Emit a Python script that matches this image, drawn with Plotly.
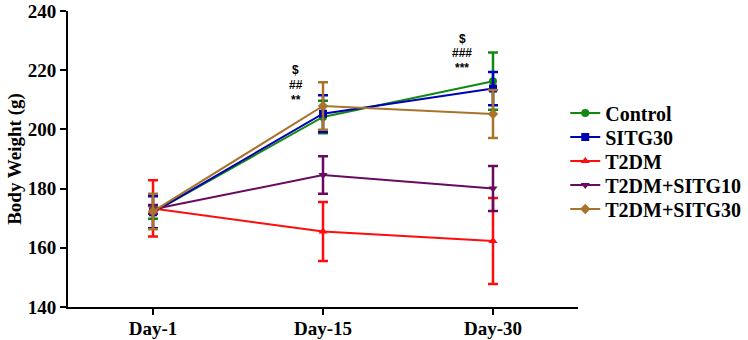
import plotly.graph_objects as go

days = ["Day-1", "Day-15", "Day-30"]
groups = ["Control", "SITG30", "T2DM", "T2DM+SITG10", "T2DM+SITG30"]
means = {
    "Control": [172.0, 204.2, 216.3],
    "SITG30": [172.0, 205.3, 213.8],
    "T2DM": [173.3, 165.5, 162.3],
    "T2DM+SITG10": [173.0, 184.6, 180.0],
    "T2DM+SITG30": [172.3, 207.9, 205.2],
}
errors = {
    "Control": [2.2, 5.5, 9.7],
    "SITG30": [5.4, 6.2, 5.6],
    "T2DM": [9.5, 10.0, 14.5],
    "T2DM+SITG10": [1.5, 6.3, 7.6],
    "T2DM+SITG30": [6.0, 8.0, 8.1],
}
colors = {
    "Control": "#128a12",
    "SITG30": "#0000b4",
    "T2DM": "#ff0d0d",
    "T2DM+SITG10": "#680a5e",
    "T2DM+SITG30": "#a8732a",
}
symbols = {
    "Control": "circle",
    "SITG30": "square",
    "T2DM": "triangle-up",
    "T2DM+SITG10": "triangle-down",
    "T2DM+SITG30": "diamond",
}
sig_labels = [("Day-15", ["$", "##", "**"], [220.0, 214.9, 209.8], -0.16),
              ("Day-30", ["$", "###", "***"], [230.7, 225.8, 220.6], -0.18)]

# legend row positions (paper y) - one legend box per group
legend_rows = [0.655, 0.574, 0.493, 0.412, 0.331]

fig = go.Figure()
for i, g in enumerate(groups):
    fig.add_trace(go.Scatter(
        x=days, y=means[g], name=g, mode="lines+markers",
        legend="legend" if i == 0 else f"legend{i + 1}",
        line=dict(color=colors[g], width=2),
        marker=dict(symbol=symbols[g], size=8, color=colors[g]),
        error_y=dict(type="data", array=errors[g], visible=True,
                     color=colors[g], thickness=2.5, width=5),
    ))

xi = {d: i for i, d in enumerate(days)}
for day, labels, ys, dx in sig_labels:
    for lab, yv in zip(labels, ys):
        fig.add_annotation(x=xi[day] + dx, y=yv, xref="x", yref="y", text=lab,
                           showarrow=False,
                           font=dict(family="Liberation Sans", size=12, color="black", weight="bold"))

axis_font = dict(family="Liberation Serif", size=19, color="black", weight="bold")
legend_font = dict(family="Liberation Serif", size=20, color="black", weight="bold")

legend_layout = {}
for i, yv in enumerate(legend_rows):
    key = "legend" if i == 0 else f"legend{i + 1}"
    legend_layout[key] = dict(x=0.975, xanchor="left", y=yv, yanchor="middle",
                              font=legend_font, bgcolor="rgba(0,0,0,0)",
                              itemwidth=30, borderwidth=0)

fig.update_layout(
    width=748, height=340,
    margin=dict(l=68, r=170, t=11, b=33, autoexpand=False),
    paper_bgcolor="white", plot_bgcolor="white",
    showlegend=True,
    xaxis=dict(type="category", categoryorder="array", categoryarray=days,
               range=[-0.5, 2.5], showline=True, linecolor="black", linewidth=2,
               ticks="outside", ticklen=6, tickwidth=2, tickcolor="black",
               tickfont=axis_font, showgrid=False, zeroline=False, automargin=False,
               ticklabelstandoff=-3),
    yaxis=dict(range=[140, 240], tickvals=[140, 160, 180, 200, 220, 240],
               showline=True, linecolor="black", linewidth=2,
               ticks="outside", ticklen=6, tickwidth=2, tickcolor="black",
               tickfont=axis_font, showgrid=False, zeroline=False, automargin=False,
               title=dict(text="Body Weight (g)", font=axis_font, standoff=1)),
    **legend_layout,
)
fig.write_html("out.html", config={"displayModeBar": False},
               post_script="document.body.style.margin='0';")
